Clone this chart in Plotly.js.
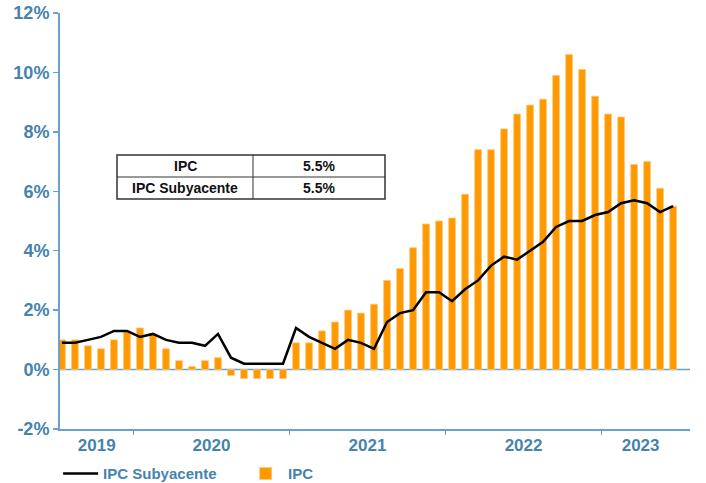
<!DOCTYPE html>
<html>
<head>
<meta charset="utf-8">
<script src="https://cdn.plot.ly/plotly-3.0.1.min.js"></script>
<style>html,body{margin:0;padding:0;background:#fff;}#chart{width:706px;height:483px;}</style>
</head>
<body>
<div id="chart"></div>
<script>
// Months: Jul 2019 .. Jun 2023
const months = [
  "2019-07","2019-08","2019-09","2019-10","2019-11","2019-12",
  "2020-01","2020-02","2020-03","2020-04","2020-05","2020-06","2020-07","2020-08","2020-09","2020-10","2020-11","2020-12",
  "2021-01","2021-02","2021-03","2021-04","2021-05","2021-06","2021-07","2021-08","2021-09","2021-10","2021-11","2021-12",
  "2022-01","2022-02","2022-03","2022-04","2022-05","2022-06","2022-07","2022-08","2022-09","2022-10","2022-11","2022-12",
  "2023-01","2023-02","2023-03","2023-04","2023-05","2023-06"
];
// IPC (headline), % y/y
const ipc = [
  1.0, 1.0, 0.8, 0.7, 1.0, 1.3,
  1.4, 1.2, 0.7, 0.3, 0.1, 0.3, 0.4, -0.2, -0.3, -0.3, -0.3, -0.3,
  0.9, 0.9, 1.3, 1.6, 2.0, 1.9, 2.2, 3.0, 3.4, 4.1, 4.9, 5.0,
  5.1, 5.9, 7.4, 7.4, 8.1, 8.6, 8.9, 9.1, 9.9, 10.6, 10.1, 9.2,
  8.6, 8.5, 6.9, 7.0, 6.1, 5.5
];
// IPC Subyacente (core), % y/y
const core = [
  0.9, 0.9, 1.0, 1.1, 1.3, 1.3,
  1.1, 1.2, 1.0, 0.9, 0.9, 0.8, 1.2, 0.4, 0.2, 0.2, 0.2, 0.2,
  1.4, 1.1, 0.9, 0.7, 1.0, 0.9, 0.7, 1.6, 1.9, 2.0, 2.6, 2.6,
  2.3, 2.7, 3.0, 3.5, 3.8, 3.7, 4.0, 4.3, 4.8, 5.0, 5.0, 5.2,
  5.3, 5.6, 5.7, 5.6, 5.3, 5.5
];
const years = ["2019","2020","2021","2022","2023"];
const yTicks = [-2, 0, 2, 4, 6, 8, 10, 12];

const idx = months.map((m, i) => i);
const xMin = -0.15, xMax = 48.3;

// year boundaries & label centers (in month-index units)
const boundaries = [];
const yearCenters = [];
years.forEach(y => {
  const ids = idx.filter(i => months[i].startsWith(y));
  const lo = Math.max(ids[0] - 0.5, xMin);
  const hi = Math.min(ids[ids.length - 1] + 0.5, xMax);
  yearCenters.push((lo + hi) / 2);
  if (ids[0] > 0) boundaries.push(ids[0] - 0.5);
});

const blue = "#4683AF";
const lineBlue = "#6AA3C8";

const traces = [
  {
    type: "scatter", mode: "lines", name: "<b>IPC Subyacente</b>",
    x: idx, y: core,
    line: {color: "#000000", width: 2.5},
    hoverinfo: "skip"
  },
  {
    type: "bar", name: "<b>IPC</b>",
    x: idx, y: ipc,
    marker: {color: "#FF9900", line: {color: "#FFC773", width: 0.8}},
    hoverinfo: "skip"
  }
];

const lastIpc = ipc[ipc.length - 1].toFixed(1) + "%";
const lastCore = core[core.length - 1].toFixed(1) + "%";

// table geometry in paper coords (plot area: x 60..690, y 13..429 px)
const px = v => (v - 60) / 630;
const py = v => (429 - v) / 416;
const tx0 = px(117), tx1 = px(385), txm = px(253);
const ty0 = py(155), ty1 = py(199), tym = py(177);

const shapes = [
  {type: "rect", xref: "paper", yref: "paper", x0: tx0, x1: tx1, y0: ty1, y1: ty0,
   line: {color: "#333333", width: 1.5}, fillcolor: "#ffffff", layer: "above"},
  {type: "line", xref: "paper", yref: "paper", x0: txm, x1: txm, y0: ty1, y1: ty0,
   line: {color: "#333333", width: 1}, layer: "above"},
  {type: "line", xref: "paper", yref: "paper", x0: tx0, x1: tx1, y0: tym, y1: tym,
   line: {color: "#333333", width: 1}, layer: "above"},
  // zero line
  {type: "line", xref: "paper", yref: "y", x0: 0, x1: 1, y0: 0, y1: 0,
   line: {color: lineBlue, width: 1.5}, layer: "below"}
];

const tf = {family: "Liberation Sans, Arial, sans-serif", size: 14, color: "#111111"};
const cell = (x, y, t) => ({xref: "paper", yref: "paper", x: x, y: y, xanchor: "center", yanchor: "middle",
  text: "<b>" + t + "</b>", showarrow: false, font: tf});
const annotations = [
  cell((tx0 + txm) / 2, (ty0 + tym) / 2, "IPC"),
  cell((txm + tx1) / 2, (ty0 + tym) / 2, lastIpc),
  cell((tx0 + txm) / 2, (tym + ty1) / 2, "IPC Subyacente"),
  cell((txm + tx1) / 2, (tym + ty1) / 2, lastCore)
];

const layout = {
  width: 706, height: 483,
  margin: {l: 60, r: 16, t: 13, b: 54, autoexpand: false},
  paper_bgcolor: "#ffffff", plot_bgcolor: "#ffffff",
  font: {family: "Liberation Sans, Arial, sans-serif", color: blue},
  bargap: 0.48,
  showlegend: true,
  legend: {orientation: "h", x: -0.003, xanchor: "left", y: -0.068, yanchor: "top",
           font: {size: 15, color: blue}, itemwidth: 35, tracegroupgap: 0,
           entrywidth: 135, entrywidthmode: "pixels",
           bgcolor: "rgba(0,0,0,0)"},
  xaxis: {
    range: [xMin, xMax], showgrid: false, zeroline: false,
    showline: true, linecolor: lineBlue, linewidth: 2,
    tickmode: "array", tickvals: yearCenters, ticktext: years.map(y => "<b>" + y + "</b>"),
    ticks: "", tickfont: {size: 17, color: blue},
    fixedrange: true
  },
  xaxis2: {
    overlaying: "x", range: [xMin, xMax], showgrid: false, zeroline: false,
    tickmode: "array", tickvals: boundaries, ticktext: boundaries.map(() => ""),
    ticks: "outside", ticklen: 5, tickwidth: 1.5, tickcolor: lineBlue,
    side: "bottom", anchor: "y", showline: false
  },
  yaxis: {
    range: [-2, 12], showgrid: false, zeroline: false,
    showline: true, linecolor: lineBlue, linewidth: 2,
    tickmode: "array", tickvals: yTicks, ticktext: yTicks.map(v => "<b>" + v + "%</b>"),
    ticks: "outside", ticklen: 5, tickwidth: 1.5, tickcolor: lineBlue,
    tickfont: {size: 18, color: blue}
  },
  shapes: shapes,
  annotations: annotations
};

// dummy trace to anchor xaxis2
traces.push({type: "scatter", x: [xMin], y: [null], xaxis: "x2", yaxis: "y", showlegend: false, hoverinfo: "skip", mode: "markers"});

Plotly.newPlot("chart", traces, layout, {displayModeBar: false, staticPlot: true});
</script>
</body>
</html>
